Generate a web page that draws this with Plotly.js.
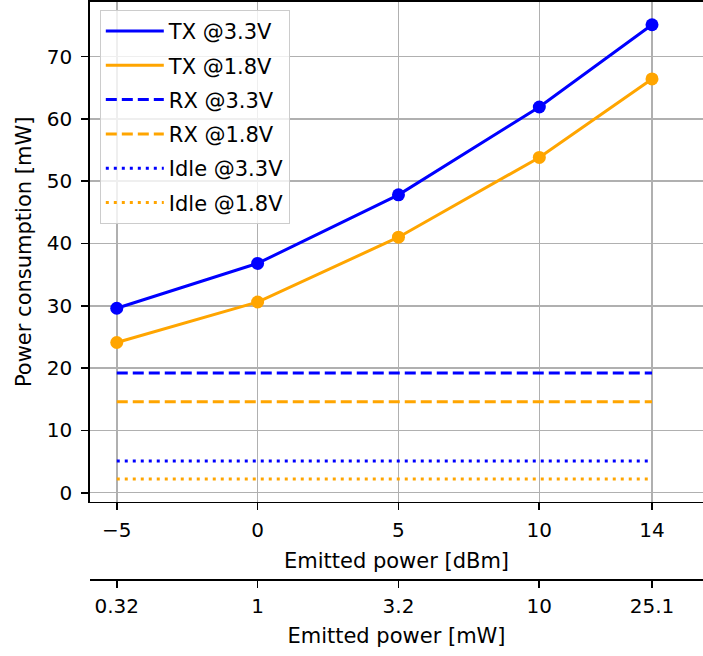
<!DOCTYPE html>
<html>
<head>
<meta charset="utf-8">
<script src="https://cdn.plot.ly/plotly-3.0.1.min.js"></script>
<style>html,body{margin:0;padding:0;background:#fff;}#chart{width:703px;height:656px;}</style>
</head>
<body>
<div id="chart"></div>
<script>
const emittedDbm = [-5, 0, 5, 10, 14];
const emittedMwLabels = ['0.32', '1', '3.2', '10', '25.1'];
const txAt33 = [29.6, 36.8, 47.8, 61.9, 75.1];
const txAt18 = [24.1, 30.6, 41.0, 53.8, 66.4];
const rxAt33 = [19.2, 19.2, 19.2, 19.2, 19.2];
const rxAt18 = [14.6, 14.6, 14.6, 14.6, 14.6];
const idleAt33 = [5.1, 5.1, 5.1, 5.1, 5.1];
const idleAt18 = [2.2, 2.2, 2.2, 2.2, 2.2];

const BLUE = '#0000ff', ORANGE = '#ffa500';
const LW = 3;
function tr(name, y, color, dash, g) {
  return {
    type: 'scatter', x: emittedDbm, y: y, name: name, legendgroup: g,
    mode: 'lines', line: {color: color, width: LW, dash: dash},
    hoverinfo: 'skip'
  };
}
function mk(y, color, g) {
  return {
    type: 'scatter', x: emittedDbm, y: y, legendgroup: g, showlegend: false,
    mode: 'markers', marker: {color: color, size: 13}, hoverinfo: 'skip'
  };
}
const traces = [
  tr('TX @3.3V', txAt33, BLUE, 'solid', 'a'),
  tr('TX @1.8V', txAt18, ORANGE, 'solid', 'b'),
  tr('RX @3.3V', rxAt33, BLUE, '11px,5px', 'c'),
  tr('RX @1.8V', rxAt18, ORANGE, '11px,5px', 'd'),
  tr('Idle @3.3V', idleAt33, BLUE, '3px,5px', 'e'),
  tr('Idle @1.8V', idleAt18, ORANGE, '3px,5px', 'f'),
  mk(txAt33, BLUE, 'a'),
  mk(txAt18, ORANGE, 'b'),
  {type: 'scatter', x: emittedDbm, y: idleAt18, xaxis: 'x2', mode: 'markers',
   marker: {opacity: 0, size: 1}, showlegend: false, hoverinfo: 'skip'}
];

const TICKFONT = {family: 'DejaVu Sans', size: 20, color: '#000'};
const FONT = {family: 'DejaVu Sans', size: 21, color: '#000'};
const xr = [-5.95, 15.81];
const layout = {
  width: 703, height: 656,
  margin: {l: 90, r: 0, t: 2, b: 0},
  paper_bgcolor: '#fff', plot_bgcolor: '#fff',
  font: FONT,
  showlegend: true,
  legend: {
    x: 0.016, y: 0.988, xanchor: 'left', yanchor: 'top',
    bgcolor: 'rgba(255,255,255,0.8)', bordercolor: '#cccccc', borderwidth: 1,
    font: FONT, traceorder: 'grouped', tracegroupgap: 4, itemwidth: 58
  },
  xaxis: {
    range: xr, tickvals: emittedDbm, ticktext: ['\u22125', '0', '5', '10', '14'],
    showgrid: true, gridcolor: '#b0b0b0', gridwidth: 1.6,
    showline: true, linecolor: '#000', linewidth: 1.7, mirror: true,
    ticks: 'outside', ticklen: 7, tickwidth: 1.7, tickcolor: '#000',
    zeroline: false, tickfont: TICKFONT, ticklabelstandoff: 3,
    title: {text: 'Emitted power [dBm]', font: FONT, standoff: 12}
  },
  xaxis2: {
    overlaying: 'x', anchor: 'free', position: 0.1177, side: 'bottom',
    range: xr, tickvals: emittedDbm, ticktext: emittedMwLabels,
    showgrid: false, zeroline: false,
    showline: true, linecolor: '#000', linewidth: 1.7,
    ticks: 'outside', ticklen: 7, tickwidth: 1.7, tickcolor: '#000',
    tickfont: TICKFONT, ticklabelstandoff: 1,
    title: {text: 'Emitted power [mW]', font: FONT, standoff: 11}
  },
  yaxis: {
    domain: [0.2359, 1], range: [-1.45, 78.75],
    tickvals: [0, 10, 20, 30, 40, 50, 60, 70],
    showgrid: true, gridcolor: '#b0b0b0', gridwidth: 1.6,
    showline: true, linecolor: '#000', linewidth: 1.7,
    ticks: 'outside', ticklen: 7, tickwidth: 1.7, tickcolor: '#000',
    zeroline: false, tickfont: TICKFONT, ticklabelstandoff: 5,
    title: {text: 'Power consumption [mW]', font: FONT, standoff: 9}
  }
};
Plotly.newPlot('chart', traces, layout, {displayModeBar: false, staticPlot: true});
</script>
</body>
</html>
